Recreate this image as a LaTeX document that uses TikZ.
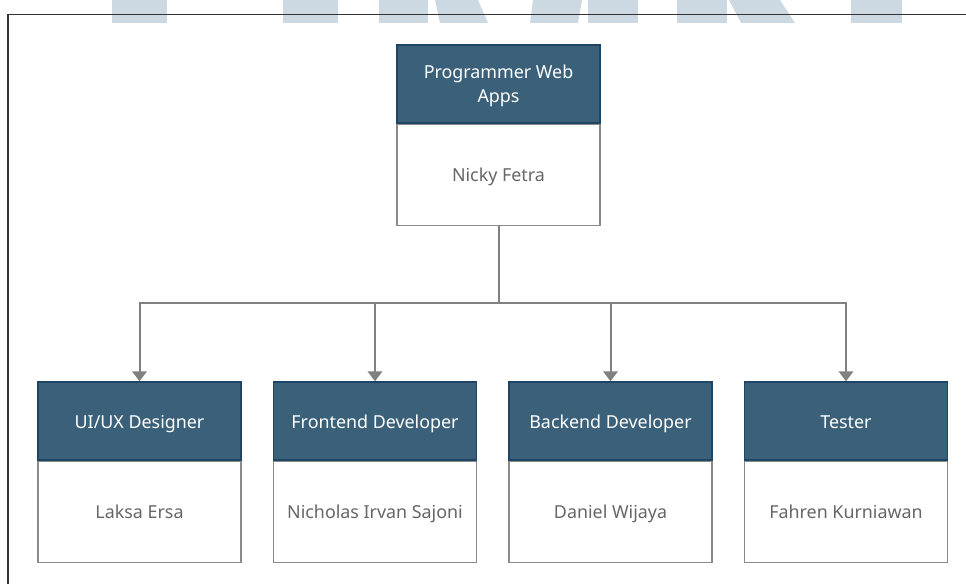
\documentclass[tikz,border=0pt]{standalone}
\usepackage{fontspec}
\setmainfont{Noto Sans}
\usetikzlibrary{arrows.meta}
\definecolor{headfill}{HTML}{3A6179}
\definecolor{headline}{HTML}{1E4563}
\definecolor{bodyline}{HTML}{8A8A8A}
\definecolor{bodytext}{HTML}{666666}
\definecolor{linkgray}{HTML}{808080}
\definecolor{markblue}{HTML}{CCD9E3}
\tikzset{
	head/.style={draw=headline, fill=headfill, text=white, line width=1.1pt, minimum width=152pt, minimum height=58.5pt, inner sep=0pt, align=center, font=\fontsize{13.4}{18}\selectfont},
	onerow/.style={text height=12.5pt, text depth=2pt},
	body/.style={draw=bodyline, fill=white, text=bodytext, line width=1.1pt, minimum width=152pt, minimum height=75.75pt, inner sep=0pt, anchor=north, onerow, font=\fontsize{13.4}{18}\selectfont},
	link/.style={draw=linkgray, line width=1.5pt, -{Triangle[width=11pt, length=7.5pt]}}
}
\begin{document}
\begin{tikzpicture}[x=0.75pt, y=-0.75pt]
			\useasboundingbox (0,0) rectangle (966,584);
			%watermark
			\fill[markblue] (112,0) -- (167,0) -- (167,23) -- (112,23) -- cycle;
			\fill[markblue] (283,0) -- (338,0) -- (338,23) -- (283,23) -- cycle;
			\fill[markblue] (379,0) -- (428,0) -- (428,23) -- (379,23) -- cycle;
			\fill[markblue] (435,0) -- (478,0) -- (488,23) -- (440,23) -- cycle;
			\fill[markblue] (533,0) -- (582,0) -- (578,23) -- (530,23) -- cycle;
			\fill[markblue] (588,0) -- (638,0) -- (638,23) -- (588,23) -- cycle;
			\fill[markblue] (677,0) -- (727,0) -- (727,23) -- (677,23) -- cycle;
			\fill[markblue] (729,0) -- (780,0) -- (795,23) -- (741,23) -- cycle;
			\fill[markblue] (851,0) -- (902,0) -- (902,23) -- (851,23) -- cycle;
			
			%frame
			\draw[line width=1pt, black!80] (8,584) -- (8,14.5) -- (966,14.5);
			
			%top box
			\node (pwa-head) at (498.5, 84) [head, text depth=0pt]{Programmer Web\\Apps};
			\node (pwa-body) at (pwa-head.south) [body]{Nicky Fetra};
			
			%team boxes
			\node (h1) at (139.5, 421) [head, onerow]{UI/UX Designer};
			\node (b1) at (h1.south) [body]{Laksa Ersa};
			\node (h2) at (375, 421) [head, onerow]{Frontend Developer};
			\node (b2) at (h2.south) [body]{Nicholas Irvan Sajoni};
			\node (h3) at (610.5, 421) [head, onerow]{Backend Developer};
			\node (b3) at (h3.south) [body]{Daniel Wijaya};
			\node (h4) at (846, 421) [head, onerow]{Tester};
			\node (b4) at (h4.south) [body]{Fahren Kurniawan};
			
			%links
			\coordinate (split) at (498.5, 303);
			\draw[draw=linkgray, line width=1.5pt] (pwa-body.south) -- (split);
			\foreach \i in {1,...,4}{
				\draw[link] (split) -| (h\i.north);
			}
		\end{tikzpicture}
\end{document}
